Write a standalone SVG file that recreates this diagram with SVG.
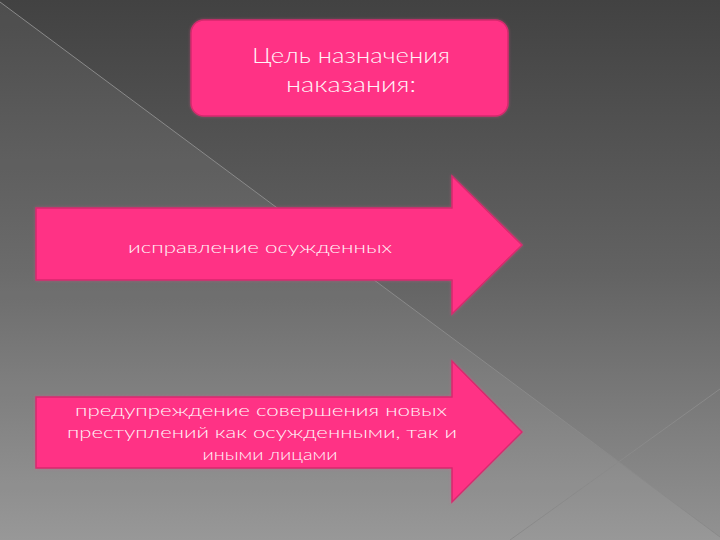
<svg xmlns="http://www.w3.org/2000/svg" width="720" height="540" viewBox="0 0 720 540">
  <defs>
    <linearGradient id="bg" x1="0" y1="0" x2="0" y2="1">
      <stop offset="0" stop-color="#424242"/>
      <stop offset="0.5" stop-color="#626262"/>
      <stop offset="1" stop-color="#929292"/>
    </linearGradient>
    <filter id="glow" x="-10%" y="-10%" width="120%" height="120%">
      <feGaussianBlur in="SourceAlpha" stdDeviation="1.5" result="b"/>
      <feFlood flood-color="#ff4d94" flood-opacity="0.4"/>
      <feComposite in2="b" operator="in" result="g"/>
      <feMerge><feMergeNode in="g"/><feMergeNode in="SourceGraphic"/></feMerge>
    </filter>
    <style>
      .shape { fill: #ff3385; stroke: #d62a6e; stroke-width: 1.5; filter: url(#glow); }
      .t { font-family: Lato, "Open Sans", "Liberation Sans", sans-serif; fill: #fff4f8; text-anchor: middle; }
      .title { font-size: 22px; font-weight: 300; }
      .lbl { font-size: 16.5px; font-weight: 300; }
      .bgline { stroke: #8a8a8a; stroke-width: 1; fill: none; }
    </style>
  </defs>

  <g id="background">
    <rect x="0" y="0" width="720" height="540" fill="url(#bg)"/>
    <polygon points="0,2 720,537 720,540 0,540" fill="#ffffff" fill-opacity="0.06"/>
    <line class="bgline" x1="0" y1="2" x2="720" y2="537"/>
    <line class="bgline" x1="510" y1="540" x2="720" y2="389"/>
  </g>

  <g id="goal">
    <rect class="shape" x="191" y="20" width="317" height="96" rx="13" ry="13"/>
    <text class="t title" x="351" y="63" textLength="198" lengthAdjust="spacingAndGlyphs">Цель назначения</text>
    <text class="t title" x="351" y="92" textLength="130" lengthAdjust="spacingAndGlyphs">наказания:</text>
  </g>

  <g id="correction">
    <polygon class="shape" points="36,208 452,208 452,176 522,245 452,314 452,280 36,280"/>
    <text class="t lbl" x="260" y="253" textLength="264" lengthAdjust="spacingAndGlyphs">исправление осужденных</text>
  </g>

  <g id="prevention">
    <polygon class="shape" points="36,397 452,397 452,361 522,432 452,502 452,468 36,468"/>
    <text class="t lbl" x="261" y="416" textLength="372" lengthAdjust="spacingAndGlyphs">предупреждение совершения новых</text>
    <text class="t lbl" x="262" y="438" textLength="390" lengthAdjust="spacingAndGlyphs">преступлений как осужденными, так и</text>
    <text class="t lbl" x="270" y="460" textLength="135" lengthAdjust="spacingAndGlyphs">иными лицами</text>
  </g>

  <g id="connectors"/>
</svg>
